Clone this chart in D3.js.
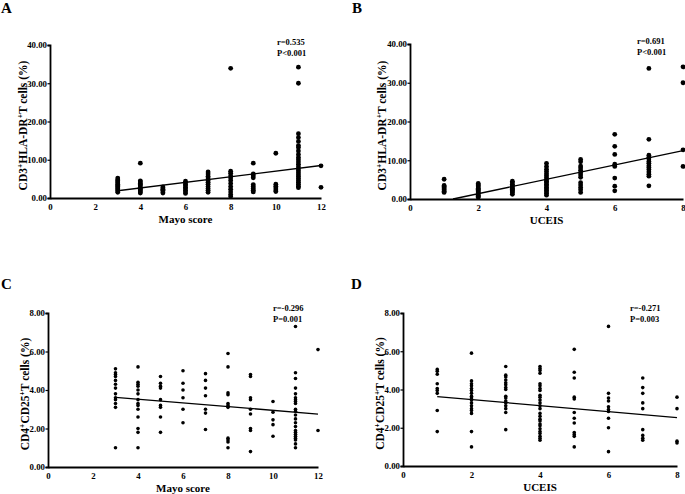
<!DOCTYPE html>
<html><head><meta charset="utf-8">
<script src="https://cdn.jsdelivr.net/npm/d3@7"></script>
<style>
body{margin:0;background:#fff;}
svg text{font-family:"Liberation Serif","Times New Roman",serif;font-weight:bold;fill:#000;}
</style></head>
<body><svg id="c" width="685" height="494"></svg>
<script>
// ---- Data ----
const mayoScores = [3,4,5,6,7,8,9,10,11,12];
const uceisScores = [1,2,3,4,5,6,7,8];
const yTicksHLA = [0,10,20,30,40];
const yTicksCD25 = [0,2,4,6,8];
const xTicksMayo = [0,2,4,6,8,10,12];
const xTicksUceis = [0,2,4,6,8];

const hlaByMayo = [
  [5.2,4.8,4.5,4.2,3.9,3.6,3.3,3.0,2.7,2.4,2.1,1.8,1.5],
  [9.1,4.5,4.2,3.8,3.5,3.2,2.8,2.5,2.2,1.9,1.6,1.3],
  [2.9,2.6,2.3,2.0,1.6,1.3],
  [4.4,4.0,3.6,3.2,2.8,2.4,2.0,1.6,1.2],
  [6.8,6.3,5.7,5.2,4.6,4.1,3.6,3.0,2.5,2.0,1.5],
  [33.9,7.0,6.5,5.8,5.2,4.6,3.8,3.0,2.3,1.6,0.9,0.4],
  [9.1,6.3,5.8,5.3,3.5,3.0,2.5,2.0,1.6],
  [11.7,3.6,3.1,2.6,2.1,1.7],
  [34.2,30.0,16.8,15.8,14.8,13.7,13.2,12.3,11.4,10.6,10.0,9.4,8.8,8.2,7.6,7.1,6.6,6.1,5.6,5.1,4.6,4.1,3.6,3.1,2.7],
  [8.4,2.8]
];
const hlaByUceis = [
  [5.1,3.5,3.2,2.9,2.6,2.3,2.0,1.7],
  [4.0,3.7,3.4,3.1,2.8,2.5,2.2,1.9,1.6,1.3,1.0,0.7,0.4],
  [4.6,4.2,3.8,3.4,3.1,2.8,2.5,2.2,1.9,1.6,1.2],
  [9.2,8.4,7.7,7.1,6.5,6.0,5.5,5.0,4.6,4.2,3.8,3.4,3.0,2.6,2.2,1.8,1.4,1.0],
  [10.2,9.6,8.5,8.0,7.4,6.8,6.2,5.6,4.2,3.6,3.0,2.4,1.7],
  [16.7,13.6,11.5,9.0,8.4,5.4,3.3,2.1],
  [33.7,15.4,11.3,10.8,10.3,9.7,9.2,8.6,8.1,7.6,7.0,6.4,5.9,3.4],
  [34.1,30.0,12.7,8.4]
];
const cd25ByMayo = [
  [5.1,4.9,4.8,4.7,4.5,4.3,4.1,3.8,3.6,3.5,3.3,3.1,1.0],
  [5.2,4.4,4.3,4.2,4.0,3.8,3.5,3.3,3.2,3.0,2.6,2.0,1.8,1.0],
  [4.7,4.35,4.2,4.1,3.5,3.2,3.1,2.6,1.8],
  [5.0,4.35,4.0,3.6,3.0,2.3],
  [4.85,4.5,4.1,3.7,3.0,2.8,1.95],
  [5.9,5.2,3.85,3.75,3.3,3.2,3.1,1.5,1.4,1.3,1.0],
  [4.8,4.7,3.6,3.5,3.0,2.75,2.0,1.9,0.8],
  [3.4,2.85,2.45,2.2,1.6],
  [7.3,4.9,4.6,4.1,3.8,3.6,3.5,3.4,3.3,3.0,2.9,2.7,2.5,2.3,2.1,1.9,1.8,1.7,1.6,1.5,1.4,1.2,1.0],
  [6.1,1.9]
];
const cd25ByUceis = [
  [5.05,4.95,4.8,4.3,4.05,3.95,3.8,2.9,1.8],
  [5.9,4.45,4.3,4.2,4.05,3.95,3.8,3.65,3.55,3.45,3.3,3.15,3.0,2.9,2.75,1.8,1.0],
  [5.2,4.75,4.65,4.5,4.35,4.25,4.1,4.0,3.65,3.55,3.4,3.3,3.15,3.0,2.8,1.9],
  [5.2,5.1,5.0,4.85,4.3,4.2,4.05,3.95,3.7,3.6,3.45,3.3,3.15,3.0,2.75,2.6,2.45,2.35,2.2,2.1,1.95,1.8,1.7,1.55,1.45,1.35],
  [6.1,4.9,4.6,3.6,3.5,2.8,2.5,2.25,1.75,1.65,1.55,1.0],
  [7.3,3.8,3.55,3.4,3.1,2.95,2.85,2.5,2.0,0.75],
  [4.6,4.1,3.8,3.3,3.0,1.9,1.6,1.45,1.35],
  [3.6,3.0,1.3,1.2]
];
// regression line endpoints (data units)
const fitA = [[3,1.9],[12,8.5]];
const fitB = [[1.26,0],[8,12.5]];
const fitC = [[3,3.62],[12,2.75]];
const fitD = [[1,3.63],[8,2.53]];
const statsA = ["r=0.535","P<0.001"];
const statsB = ["r=0.691","P<0.001"];
const statsC = ["r=-0.296","P=0.001"];
const statsD = ["r=-0.271","P=0.003"];

// ---- Drawing ----
const svg = d3.select("#c");

function panel(o){
  const g = svg.append("g");
  const x = d3.scaleLinear().domain(o.xDomain).range([o.left,o.right]);
  const y = d3.scaleLinear().domain(o.yDomain).range([o.bottom,o.top]);
  g.append("text").attr("x",o.letterX).attr("y",o.letterY).attr("font-size",15).text(o.letter);
  const ya = g.append("g").attr("transform",`translate(${o.left},0)`)
    .call(d3.axisLeft(y).tickValues(o.yTicks).tickSize(2.5).tickPadding(0.5).tickFormat(d3.format(".2f")));
  const xa = g.append("g").attr("transform",`translate(0,${o.bottom})`)
    .call(d3.axisBottom(x).tickValues(o.xTicks).tickSize(0).tickPadding(5.5).tickFormat(d3.format("d")));
  [ya,xa].forEach(a=>{
    a.select(".domain").attr("stroke","#000").attr("stroke-width",1.8);
    a.selectAll(".tick line").attr("stroke","#000").attr("stroke-width",1.2);
    a.selectAll("text").attr("font-size",8.8).attr("font-family","Liberation Serif").attr("font-weight","bold").attr("fill","#000");
  });
  g.append("text").attr("x",x((o.xDomain[0]+o.xDomain[1])/2)).attr("y",o.bottom+24.5)
    .attr("text-anchor","middle").attr("font-size",11).text(o.xTitle);
  const yt = g.append("text").attr("transform",`translate(${o.yTitleX},${(o.top+o.bottom)/2 + o.yTitleShift}) rotate(-90)`)
    .attr("text-anchor","middle").attr("font-size",11.5);
  o.yTitle.forEach(p=>{
    const t = yt.append("tspan").text(p.t);
    if(p.sup){ t.attr("font-size",7.5).attr("dy",-4); }
    else if(p.after){ t.attr("dy",4); }
  });
  const pts = [];
  o.groups.forEach((gx,i)=>o.values[i].forEach(v=>pts.push([gx,v])));
  g.selectAll("circle").data(pts).join("circle")
    .attr("cx",d=>x(d[0])).attr("cy",d=>y(d[1])).attr("r",o.r).attr("fill","#000");
  g.append("path").datum(o.fit)
    .attr("d",d3.line().x(d=>x(d[0])).y(d=>y(d[1])))
    .attr("stroke","#000").attr("stroke-width",1.3).attr("fill","none");
  o.stats.forEach((s,i)=>g.append("text").attr("x",o.statX).attr("y",o.statY+i*10.5).attr("font-size",8.5).text(s));
}

const hlaTitle = [{t:"CD3"},{t:"+",sup:true},{t:"HLA-DR",after:true},{t:"+",sup:true},{t:"T cells (%)",after:true}];
const cd25Title = [{t:"CD4"},{t:"+",sup:true},{t:"CD25",after:true},{t:"+",sup:true},{t:"T cells (%)",after:true}];

panel({letter:"A",letterX:1,letterY:13,left:50,right:321,top:45,bottom:198,xDomain:[0,12],yDomain:[0,40],
  xTicks:xTicksMayo,yTicks:yTicksHLA,groups:mayoScores,values:hlaByMayo,fit:fitA,stats:statsA,statX:277,statY:45,
  r:2.4,xTitle:"Mayo score",yTitle:hlaTitle,yTitleX:27,yTitleShift:4});
panel({letter:"B",letterX:352,letterY:13,left:410,right:683,top:44,bottom:199,xDomain:[0,8],yDomain:[0,40],
  xTicks:xTicksUceis,yTicks:yTicksHLA,groups:uceisScores,values:hlaByUceis,fit:fitB,stats:statsB,statX:637,statY:44,
  r:2.4,xTitle:"UCEIS",yTitle:hlaTitle,yTitleX:386,yTitleShift:4});
panel({letter:"C",letterX:1,letterY:289,left:48,right:318,top:313,bottom:467,xDomain:[0,12],yDomain:[0,8],
  xTicks:xTicksMayo,yTicks:yTicksCD25,groups:mayoScores,values:cd25ByMayo,fit:fitC,stats:statsC,statX:273,statY:311,
  r:1.8,xTitle:"Mayo score",yTitle:cd25Title,yTitleX:29,yTitleShift:4});
panel({letter:"D",letterX:351,letterY:289,left:403,right:677,top:313,bottom:466,xDomain:[0,8],yDomain:[0,8],
  xTicks:xTicksUceis,yTicks:yTicksCD25,groups:uceisScores,values:cd25ByUceis,fit:fitD,stats:statsD,statX:630,statY:311,
  r:1.8,xTitle:"UCEIS",yTitle:cd25Title,yTitleX:384,yTitleShift:4});
</script></body></html>
